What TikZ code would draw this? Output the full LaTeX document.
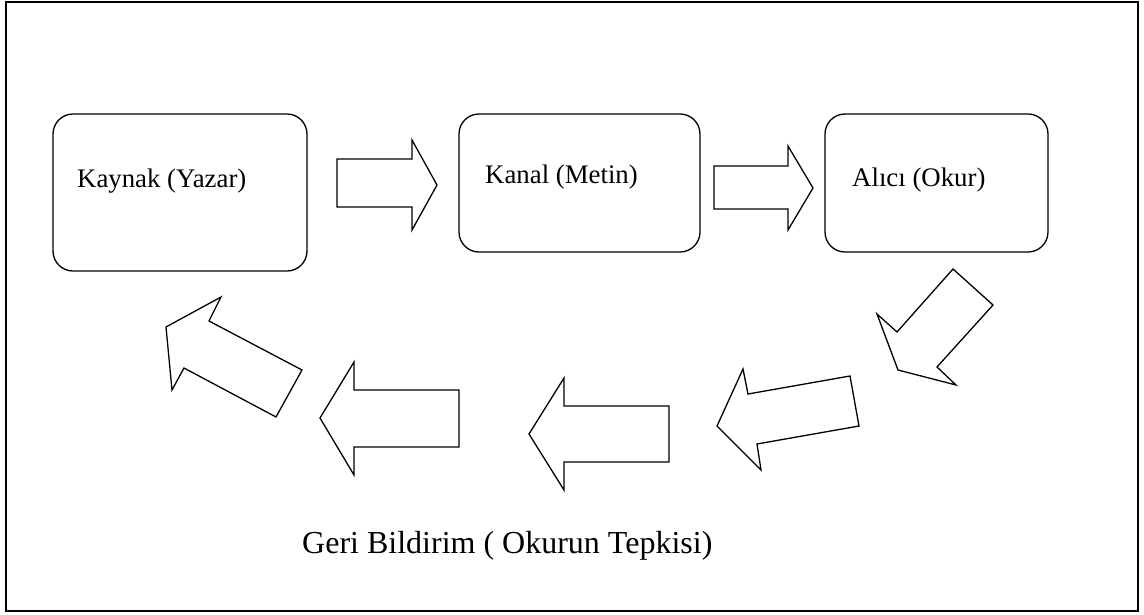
\documentclass[tikz,border=0pt]{standalone}
\usepackage{fontspec}
\setmainfont{Liberation Serif}
\begin{document}
\begin{tikzpicture}[x=1pt,y=-1pt,
  box/.style={draw,line width=1.3pt,rounded corners=20pt,inner sep=0pt},
  lbl/.style={anchor=base west,inner sep=0pt,font=\fontsize{26.8}{30}\selectfont},
  blockarrow/.style={draw,line width=1.3pt,line join=miter}]
\useasboundingbox (0,0) rectangle (1144,614);
\draw[line width=2pt] (5.5,1.5) rectangle (1138,610.5);
% boxes
\node[box,minimum width=254pt,minimum height=157pt] (src) at (180,192.5) {};
\node[box,minimum width=241pt,minimum height=138pt] (chan) at (579.5,183) {};
\node[box,minimum width=223pt,minimum height=138pt] (recv) at (936.5,183) {};
% labels
\node[lbl] (srct) at (77,187) {Kaynak (Yazar)};
\node[lbl] (chant) at (485,183) {Kanal (Metin)};
\node[lbl] (recvt) at (852,186) {Alıcı (Okur)};
\node[lbl,font=\fontsize{32}{36}\selectfont] (fb) at (302,553) {Geri Bildirim ( Okurun Tepkisi)};
% block arrows
\draw[blockarrow] (337,159) -- (412,159) -- (412,140) -- (437,185) -- (412,230) -- (412,207) -- (337,207) -- cycle;
\draw[blockarrow] (714,166) -- (788,166) -- (788,146) -- (813,188) -- (788,230) -- (788,209) -- (714,209) -- cycle;
\draw[blockarrow] (953,269) -- (993,305) -- (937,367) -- (956,385) -- (898,370) -- (877,314) -- (897,332) -- cycle;
\draw[blockarrow] (743,369) -- (748,394) -- (850,376) -- (859,426) -- (757,444) -- (761,470) -- (717,426) -- cycle;
\draw[blockarrow] (669,406) -- (564,406) -- (564,378) -- (529,434) -- (564,490) -- (564,462) -- (669,462) -- cycle;
\draw[blockarrow] (459,390) -- (354,390) -- (354,362) -- (320,418) -- (354,475) -- (354,447) -- (459,447) -- cycle;
\draw[blockarrow] (221,297) -- (209,321) -- (302,370) -- (276,417) -- (184,368) -- (172,390) -- (166,327) -- cycle;
\end{tikzpicture}
\end{document}
